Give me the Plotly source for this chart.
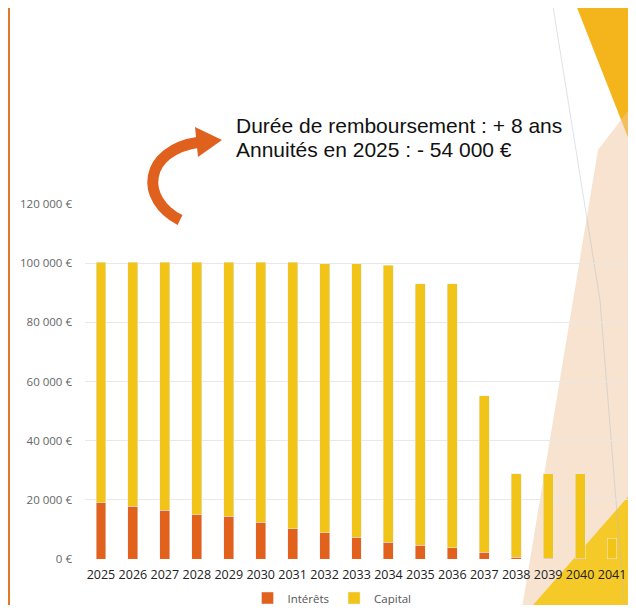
import plotly.graph_objects as go

# Annual repayment split (euros)
annees = ["2025", "2026", "2027", "2028", "2029", "2030", "2031", "2032", "2033",
          "2034", "2035", "2036", "2037", "2038", "2039", "2040", "2041"]
interets = [19100, 17800, 16400, 15000, 14500, 12400, 10300, 8800, 7400,
            5600, 4600, 3800, 2200, 600, 300, 200, 100]
capital = [81200, 82500, 83900, 85300, 85800, 87900, 90000, 91000, 92400,
           93700, 88400, 89200, 53000, 28200, 28500, 28600, 7000]
y_ticks = [0, 20000, 40000, 60000, 80000, 100000, 120000]
y_labels = ["0 €", "20 000 €", "40 000 €", "60 000 €", "80 000 €", "100 000 €", "120 000 €"]

# the page body keeps its default 8px margin, so the figure is sized to fit
# inside the window without scrollbars
OFF = 8
W, H = 636 - 2 * OFF, 613 - 2 * OFF
L, T = 85 - OFF, 204 - OFF
R = 0
B = H - (559 - OFF)
PW, PH = W - L - R, H - T - B


def px(x, y):
    """position in window pixels -> paper coordinates"""
    return (x - OFF - L) / PW, (H - B - (y - OFF)) / PH


def path(cmds, close=False):
    # one command letter per point, plotly does not parse implicit repeats
    parts = []
    for cmd, pts in cmds:
        if cmd == "C":
            parts.append("C " + " ".join("%.4f,%.4f" % px(*p) for p in pts))
        else:
            for p in pts:
                parts.append("%s %.4f,%.4f" % ((cmd,) + px(*p)))
    return " ".join(parts) + (" Z" if close else "")


fig = go.Figure()
fig.add_trace(go.Bar(x=annees, y=interets, name="Intérêts", marker_color="#E2611C"))
fig.add_trace(go.Bar(x=annees, y=capital, name="Capital", marker_color="#F2C417"))

# slide decorations (background)
shapes = [
    dict(type="path", path=path([("M", [(574, 0)]), ("L", [(640, 0), (640, 168)])], True),
         fillcolor="#F4B51C", line_width=0, layer="below"),
    dict(type="path", path=path([("M", [(598, 150)]), ("L", [(640, 95), (640, 620), (520, 620)])], True),
         fillcolor="rgba(240,200,160,0.5)", line_width=0, layer="below"),
    dict(type="path", path=path([("M", [(520, 620)]), ("L", [(640, 483), (640, 620)])], True),
         fillcolor="#F5C928", line_width=0, layer="below"),
    dict(type="path", path=path([("M", [(552, 0)]), ("L", [(600, 300), (625, 613)])]),
         line=dict(color="rgba(180,190,205,0.45)", width=1), layer="below"),
    dict(type="line", x0=px(9, 0)[0], x1=px(9, 0)[0], y0=px(0, 0)[1], y1=px(0, 620)[1],
         line=dict(color="#E07A2A", width=2)),
    # curved arrow body
    dict(type="path",
         path=path([("M", [(180, 220)]), ("C", [(140, 200), (142, 150), (200, 142)])]),
         line=dict(color="#E0601E", width=11)),
    # arrow head
    dict(type="path", path=path([("M", [(195, 127)]), ("L", [(222, 140), (198, 157)])], True),
         fillcolor="#E0601E", line_width=0),
]
for s in shapes:
    s.setdefault("xref", "paper")
    s.setdefault("yref", "paper")
fig.update_layout(shapes=shapes)

for text, ypix in [("Durée de remboursement : + 8 ans", 125), ("Annuités en 2025 : - 54 000 €", 149)]:
    ax, ay = px(234, ypix)
    fig.add_annotation(x=ax, y=ay, xref="paper", yref="paper", xanchor="left", yanchor="middle",
                       text=text, showarrow=False,
                       font=dict(family="Liberation Sans, Arial", size=21, color="#111111"))

# legend placed in container coordinates so it does not push the bottom margin
fig.update_layout(
    width=W,
    height=H,
    margin=dict(l=L, r=R, t=T, b=B, pad=0),
    barmode="stack",
    bargap=0.69,
    paper_bgcolor="white",
    plot_bgcolor="rgba(0,0,0,0)",
    font=dict(family="Open Sans", color="#444444"),
    legend=dict(orientation="h", xref="container", yref="container",
                x=(332 - OFF) / W, y=1 - (598 - OFF) / H, xanchor="center", yanchor="middle",
                font=dict(size=11.5, color="#555555"), bgcolor="rgba(0,0,0,0)",
                traceorder="normal", itemwidth=30),
    xaxis=dict(range=[-0.5, 16.5], showgrid=False, showline=False, ticks="",
               automargin=False, tickfont=dict(size=12.5, color="#222222"),
               ticklabelstandoff=6),
    yaxis=dict(range=[0, 120000], tickvals=y_ticks, ticktext=y_labels, automargin=False,
               showgrid=True, gridcolor="#E8E8E8", gridwidth=1, zeroline=False,
               tickfont=dict(size=11.5, color="#666666"), ticklabelstandoff=12),
)

fig.write_html("out.html")
